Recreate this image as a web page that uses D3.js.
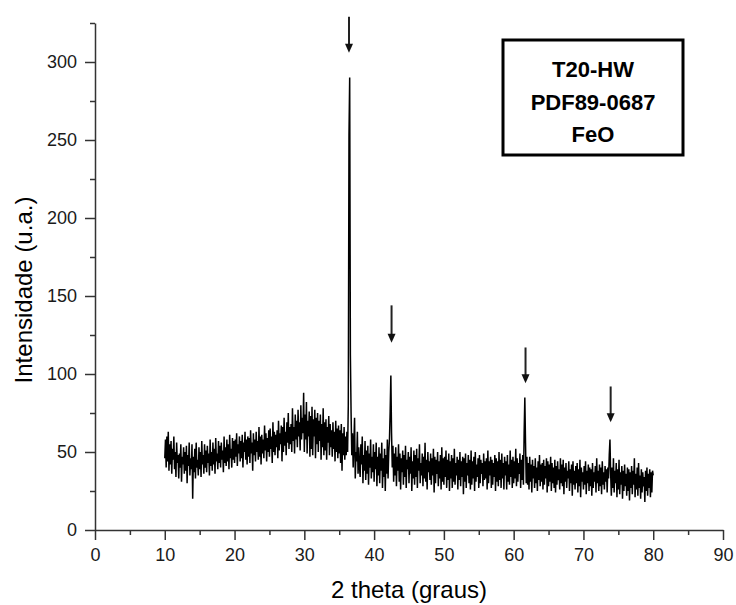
<!DOCTYPE html>
<html>
  <head>
    <meta charset="utf-8" />
    <script src="https://cdn.jsdelivr.net/npm/d3@7"></script>
    <style>
      body {
        margin: 0;
        background: #fff;
      }
      svg {
        display: block;
        font-family: "Liberation Sans", Arial, sans-serif;
      }
      .axis path,
      .axis line {
        stroke: #333;
        stroke-width: 1.5;
      }
      .axis text {
        font-size: 18px;
        fill: #1a1a1a;
      }
    </style>
  </head>
  <body>
    <svg id="chart" width="736" height="605"></svg>

    <script>
      // intensity every 0.1 deg, 10.0 -> 80.0
      const i10_20 = [
        46,58,40,60,44,63,38,55,42,57,
        36,52,45,60,39,50,34,56,43,48,
        33,49,40,55,31,47,42,53,36,50,
        38,54,30,48,41,56,35,46,39,55,
        20,47,37,52,33,56,40,45,35,53,
        39,50,34,57,42,48,36,55,40,51,
        37,54,43,49,35,58,41,50,38,56,
        42,52,36,59,44,49,39,57,43,54,
        40,56,45,51,37,60,43,53,41,58,
        44,55,39,61,46,52,40,59,45,57
      ];
      const i20_30 = [
        43,58,47,62,41,55,49,60,44,57,
        46,61,40,56,50,63,45,58,42,60,
        47,59,43,64,49,56,38,62,48,58,
        44,63,50,57,45,66,47,60,42,61,
        49,58,46,67,51,62,44,59,50,64,
        47,65,52,60,43,69,50,63,48,61,
        53,64,46,70,51,62,55,67,44,66,
        50,72,54,63,48,69,56,75,52,66,
        55,68,50,78,57,66,49,74,58,70,
        53,77,60,69,51,80,58,72,62,88
      ];
      const i30_40 = [
        50,74,58,82,49,70,60,76,47,73,
        52,79,48,71,60,77,46,72,55,75,
        50,70,57,74,45,68,53,78,48,69,
        51,71,45,66,56,73,48,68,53,64,
        47,69,52,63,44,70,50,65,46,67,
        49,64,43,68,38,62,48,66,45,60,
        48,63,50,80,253,290,112,75,48,62,
        40,56,72,33,50,44,63,36,53,41,
        34,55,42,60,30,48,38,57,32,51,
        36,54,29,49,40,58,33,47,37,55
      ];
      const i40_50 = [
        31,50,39,56,28,47,35,53,30,49,
        38,56,27,46,34,52,25,48,36,58,
        33,50,58,76,99,62,40,54,31,49,
        35,53,28,47,38,55,31,49,26,46,
        37,51,29,48,34,54,27,45,39,50,
        30,47,36,53,25,44,33,51,29,48,
        34,52,27,46,38,55,30,43,35,49,
        28,47,33,56,31,45,26,50,37,44,
        32,49,29,46,35,52,24,47,30,45,
        36,50,28,44,33,48,26,53,31,46
      ];
      const i50_60 = [
        29,47,34,51,27,45,32,49,25,44,
        33,48,27,46,31,52,29,43,35,47,
        26,45,32,50,28,44,34,47,23,46,
        31,49,27,43,35,48,30,45,26,51,
        29,44,33,47,25,50,31,42,34,46,
        27,48,30,45,36,43,28,49,32,44,
        33,46,26,51,30,44,35,47,27,45,
        29,43,34,48,25,46,31,44,28,50,
        32,45,27,49,33,43,26,47,35,44,
        26,48,31,42,29,51,34,45,27,47
      ];
      const i60_70 = [
        30,44,33,52,28,46,31,43,36,49,
        27,45,32,48,29,62,85,56,30,47,
        29,43,26,47,31,42,24,45,33,41,
        27,46,30,40,25,44,32,48,28,42,
        31,43,26,45,29,41,33,46,24,44,
        28,42,31,47,25,43,30,40,27,45,
        24,41,29,44,32,39,26,46,30,42,
        28,45,23,40,31,43,27,38,33,44,
        25,39,30,42,22,44,29,38,26,41,
        30,43,24,39,28,45,21,40,31,37
      ];
      const i70_80 = [
        26,41,29,44,23,38,30,42,25,40,
        28,39,22,43,27,37,31,41,24,46,
        30,38,25,42,28,40,23,44,29,37,
        26,41,31,39,24,40,33,48,58,36,
        22,40,27,46,24,38,30,43,21,39,
        26,45,23,37,29,41,20,38,25,42,
        28,36,22,40,25,39,19,37,27,41,
        23,38,29,46,21,36,26,40,22,43,
        27,35,20,39,24,37,28,34,18,38,
        25,40,22,36,27,39,21,37,24,38,
        35
      ];

      const peakX = [36.4, 42.5, 61.7, 73.9];
      const arrowTail = [329, 144, 117, 92];
      const arrowTip = [306, 120, 94, 69];

      const legendLines = ["T20-HW", "PDF89-0687", "FeO"];
      const xTicks = [0, 10, 20, 30, 40, 50, 60, 70, 80, 90];
      const yTicks = [0, 50, 100, 150, 200, 250, 300];

      const intensity = [].concat(i10_20, i20_30, i30_40, i40_50, i50_60, i60_70, i70_80);
      const data = intensity.map((v, i) => ({ x: (100 + i) / 10, y: v }));

      const svg = d3.select("#chart");
      const x = d3.scaleLinear().domain([0, 90]).range([95, 723]);
      const y = d3.scaleLinear().domain([0, 325]).range([530, 23]);

      // minor ticks first, majors drawn on top
      svg.append("g")
        .attr("class", "axis")
        .attr("transform", "translate(0,530)")
        .call(d3.axisBottom(x).tickValues(d3.range(5, 90, 10)).tickSize(5).tickFormat(""))
        .select(".domain").remove();
      svg.append("g")
        .attr("class", "axis")
        .attr("transform", "translate(95,0)")
        .call(d3.axisLeft(y).tickValues(d3.range(25, 326, 50)).tickSize(5).tickFormat(""))
        .select(".domain").remove();

      svg.append("g")
        .attr("class", "axis")
        .attr("transform", "translate(0,530)")
        .call(d3.axisBottom(x).tickValues(xTicks).tickSize(10).tickSizeOuter(0).tickPadding(8));
      svg.append("g")
        .attr("class", "axis")
        .attr("transform", "translate(95,0)")
        .call(d3.axisLeft(y).tickValues(yTicks).tickSize(10).tickSizeOuter(0).tickPadding(8));

      const line = d3.line()
        .x(d => x(d.x))
        .y(d => y(d.y));

      svg.append("path")
        .datum(data)
        .attr("fill", "none")
        .attr("stroke", "#000")
        .attr("stroke-width", 1.5)
        .attr("stroke-linejoin", "miter")
        .attr("d", line);

      // arrows over the FeO peaks
      const arrows = svg.append("g");
      peakX.forEach((p, i) => {
        const ax = x(p);
        const tip = y(arrowTip[i]);
        arrows.append("line")
          .attr("x1", ax).attr("x2", ax)
          .attr("y1", y(arrowTail[i])).attr("y2", tip - 6)
          .attr("stroke", "#222")
          .attr("stroke-width", 2);
        arrows.append("path")
          .attr("d", `M${ax - 4},${tip - 9}L${ax + 4},${tip - 9}L${ax},${tip}Z`)
          .attr("fill", "#111");
      });

      // legend box
      svg.append("rect")
        .attr("x", 503).attr("y", 40)
        .attr("width", 180).attr("height", 115)
        .attr("fill", "#fff")
        .attr("stroke", "#000")
        .attr("stroke-width", 3);
      svg.append("g")
        .selectAll("text")
        .data(legendLines)
        .join("text")
        .attr("x", 593)
        .attr("y", (d, i) => 77 + i * 32.5)
        .attr("text-anchor", "middle")
        .attr("font-size", 22)
        .attr("font-weight", "bold")
        .attr("fill", "#000")
        .text(d => d);

      svg.append("text")
        .attr("x", 409)
        .attr("y", 598)
        .attr("text-anchor", "middle")
        .attr("font-size", 24)
        .attr("fill", "#000")
        .text("2 theta (graus)");

      svg.append("text")
        .attr("transform", "translate(32,290) rotate(-90)")
        .attr("text-anchor", "middle")
        .attr("font-size", 24)
        .attr("fill", "#000")
        .text("Intensidade (u.a.)");
    </script>
  </body>
</html>
